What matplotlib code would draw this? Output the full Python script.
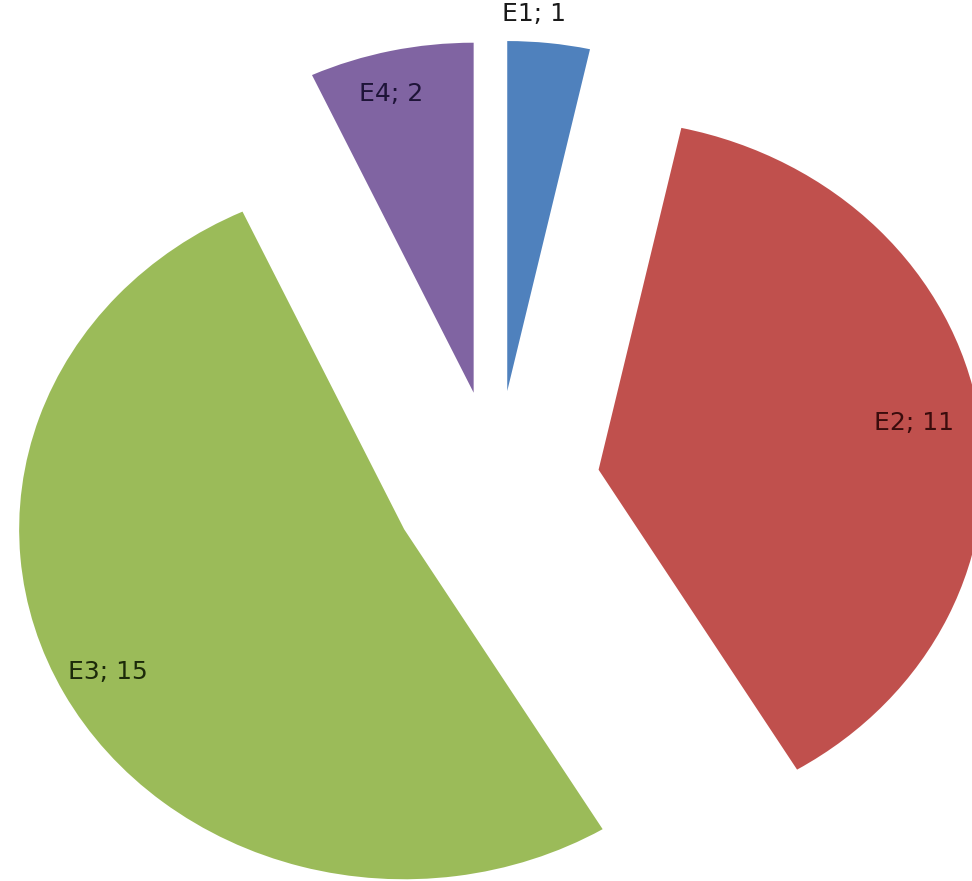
import numpy as np
import matplotlib.pyplot as plt

# Valores por estrato
categorias = ["E1", "E2", "E3", "E4"]
valores = [1, 11, 15, 2]
colores = ["#4F81BD", "#C0504D", "#9BBB59", "#8064A2"]
colores_texto = ["#1a1a1a", "#3a0c0c", "#1c2a0a", "#1e1438"]

# Posición de cada etiqueta: distancia desde el vértice de la porción (en radios)
# y fracción del ángulo de la porción donde se coloca
dist_etiqueta = [1.08, 0.83, 0.87, 0.88]
frac_angulo = [0.7, 0.5, 0.5, 0.57]

fig = plt.figure(figsize=(9.72, 8.81), dpi=100)
ax = fig.add_axes([0, 0, 1, 1])

wedges, _ = ax.pie(valores, colors=colores, startangle=90, counterclock=False,
                   explode=[0.27] * len(valores), radius=1,
                   wedgeprops=dict(linewidth=0))

for w, cat, v, d, f, c in zip(wedges, categorias, valores, dist_etiqueta,
                              frac_angulo, colores_texto):
    ang = np.deg2rad(w.theta1 + f * (w.theta2 - w.theta1))
    cx, cy = w.center
    ax.text(cx + d * np.cos(ang), cy + d * np.sin(ang), f"{cat}; {v}",
            ha="center", va="center", fontsize=18, color=c)

# El gráfico está algo estirado en horizontal y recortado a la derecha y abajo
px_x, px_y = 385, 350
ax.set_aspect("auto")
ax.set_xlim(-496 / px_x, (972 - 496) / px_x)
ax.set_ylim(-(881 - 485) / px_y, 485 / px_y)
ax.axis("off")

fig.savefig("out.png", dpi=100, facecolor="white")
